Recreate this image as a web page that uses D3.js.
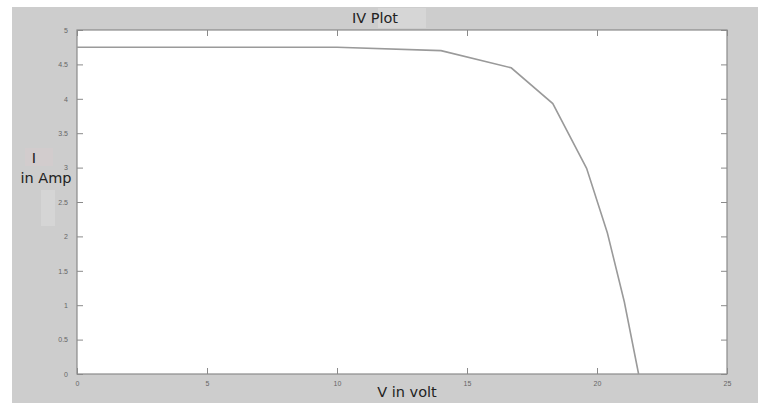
<!DOCTYPE html>
<html><head><meta charset="utf-8">
<script src="https://cdn.jsdelivr.net/npm/d3@7"></script>
<style>body{margin:0;background:#fff}svg{display:block}</style>
</head><body>
<svg id="c" width="758" height="403"></svg>
<script>
const voltage = [0, 10, 14, 16.7, 18.3, 19.6, 20.4, 21.05, 21.6];
const current = [4.75, 4.75, 4.70, 4.45, 3.93, 2.99, 2.05, 1.05, 0];
const xTicks = [0, 5, 10, 15, 20, 25];
const yTicks = [0, 0.5, 1, 1.5, 2, 2.5, 3, 3.5, 4, 4.5, 5];
const title = "IV Plot", xLabel = "V in volt", yLabel1 = "I", yLabel2 = "in Amp";

const svg = d3.select("#c");
const L = 77, R = 727, T = 30, B = 374;
svg.append("rect").attr("x", 12).attr("y", 7).attr("width", 746).attr("height", 396).attr("fill", "#cdcdcd");
// faint artifacts
svg.append("rect").attr("x", 378).attr("y", 8).attr("width", 48).attr("height", 20).attr("fill", "#d6d6d6");
svg.append("rect").attr("x", 41).attr("y", 190).attr("width", 14).attr("height", 36).attr("fill", "#d5d5d5");
svg.append("rect").attr("x", 25).attr("y", 148).attr("width", 28).attr("height", 18).attr("fill", "#d2cccd");

const x = d3.scaleLinear().domain([0, 25]).range([L, R]);
const y = d3.scaleLinear().domain([0, 5]).range([B, T]);

svg.append("rect").attr("x", L).attr("y", T).attr("width", R - L).attr("height", B - T)
  .attr("fill", "#fff").attr("stroke", "#8a8a8a").attr("stroke-width", 1.2);

const tickStyle = g => {
  g.select(".domain").remove();
  g.selectAll("line").attr("stroke", "#8a8a8a");
  g.selectAll("text").attr("fill", "#666").style("font-family", "Arial, sans-serif").style("font-size", "7px");
};
svg.append("g").attr("transform", `translate(0,${B})`)
  .call(d3.axisBottom(x).tickValues(xTicks).tickSize(-6).tickPadding(7).tickFormat(d3.format("d"))).call(tickStyle);
svg.append("g").attr("transform", `translate(0,${T})`)
  .call(d3.axisTop(x).tickValues(xTicks).tickSize(-6).tickFormat("")).call(tickStyle);
svg.append("g").attr("transform", `translate(${L},0)`)
  .call(d3.axisLeft(y).tickValues(yTicks).tickSize(-6).tickPadding(9).tickFormat(d => d)).call(tickStyle);
svg.append("g").attr("transform", `translate(${R},0)`)
  .call(d3.axisRight(y).tickValues(yTicks).tickSize(-6).tickFormat("")).call(tickStyle);

const data = voltage.map((v, i) => [v, current[i]]);
svg.append("path").datum(data)
  .attr("d", d3.line().x(d => x(d[0])).y(d => y(d[1])))
  .attr("fill", "none").attr("stroke", "#9a9a9a").attr("stroke-width", 1.6);

const txt = (s, tx, ty, size, anchor) => svg.append("text").attr("x", tx).attr("y", ty)
  .attr("text-anchor", anchor || "middle").attr("fill", "#222")
  .style("font-family", "'DejaVu Sans', Verdana, sans-serif").style("font-size", size + "px").text(s);
txt(title, 375, 23, 14.5);
txt(xLabel, 407, 397, 14.5);
txt(yLabel1, 34, 163, 14.5);
txt(yLabel2, 46, 183, 14.5);
</script>
</body></html>
